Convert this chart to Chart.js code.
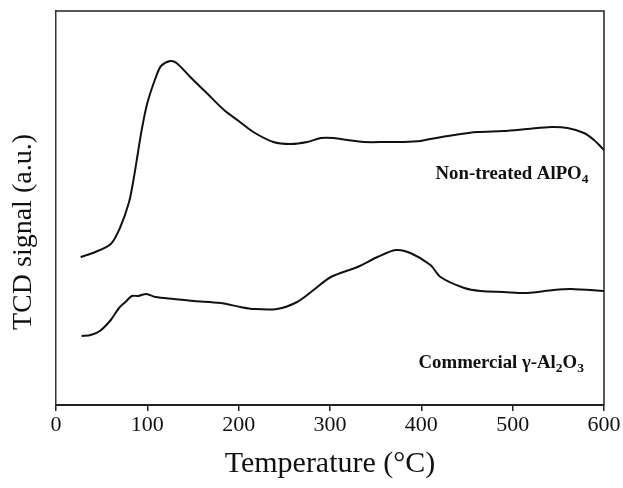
<!DOCTYPE html>
<html>
<head>
<meta charset="utf-8">
<script src="https://cdn.jsdelivr.net/npm/chart.js@4/dist/chart.umd.min.js"></script>
<style>
html,body{margin:0;padding:0;background:#fff;}
#wrap{width:623px;height:488px;position:relative;}
</style>
</head>
<body>
<div id="wrap"><canvas id="c" width="623" height="488"></canvas></div>
<script>
// Temperatures (°C) and TCD signal (a.u.)
const tempNonTreated = [27, 43, 60, 70, 80, 85, 90, 94, 100, 109, 115, 125, 132, 147, 165, 184, 200, 216, 238, 257, 275, 290, 304, 319, 337, 363, 381, 399, 410, 436, 461, 490, 516, 542, 560, 578, 589, 600];
const signalNonTreated = [148, 153, 161, 177, 203, 226, 254, 276, 302, 327, 339, 344, 342, 328, 312, 295, 284, 273, 263, 261, 263, 267, 267, 265, 263, 263, 263, 264, 266, 270, 273, 274, 276, 278, 277, 272, 265, 255];

const tempCommercial = [28, 38, 48, 60, 69, 76, 83, 90, 99, 109, 129, 151, 180, 202, 216, 242, 264, 282, 301, 330, 352, 372, 388, 410, 421, 447, 465, 490, 516, 545, 564, 600];
const signalCommercial = [69, 70, 74, 85, 97, 103, 109, 109, 111, 108, 106, 104, 102, 98, 96, 96, 103, 115, 128, 138, 148, 155, 152, 140, 128, 117, 114, 113, 112, 115, 116, 114];

const xTicks = [0, 100, 200, 300, 400, 500, 600];

const seriesLabels = [
  {name: 'Non-treated AlPO4', parts: [['Non-treated AlPO', 0], ['4', 1]], x: 583, y: 226},
  {name: 'Commercial γ-Al2O3', parts: [['Commercial γ-Al', 0], ['2', 1], ['O', 0], ['3', 1]], x: 578, y: 37}
];

const yTitle = 'TCD signal (a.u.)';
const xTitle = 'Temperature (°C)';
const SERIF = '"Liberation Serif", "Times New Roman", serif';

function pts(xs, ys) { return xs.map((x, i) => ({x: x, y: ys[i]})); }

const framePlugin = {
  id: 'frame',
  afterDatasetsDraw(chart) {
    const {ctx, chartArea: a} = chart;
    ctx.save();
    ctx.strokeStyle = '#222';
    ctx.lineWidth = 1.5;
    ctx.beginPath();
    ctx.moveTo(a.left, a.top);
    ctx.lineTo(a.right, a.top);
    ctx.lineTo(a.right, a.bottom);
    ctx.stroke();
    ctx.restore();
  }
};

const labelPlugin = {
  id: 'seriesLabels',
  afterDatasetsDraw(chart) {
    const {ctx, scales} = chart;
    ctx.save();
    ctx.fillStyle = '#111';
    ctx.textBaseline = 'alphabetic';
    ctx.textAlign = 'left';
    seriesLabels.forEach(l => {
      const main = 'bold 18.8px ' + SERIF;
      const sub = 'bold 13.5px ' + SERIF;
      let w = 0;
      l.parts.forEach(p => { ctx.font = p[1] ? sub : main; w += ctx.measureText(p[0]).width; });
      let x = scales.x.getPixelForValue(l.x) - w;
      const y = scales.y.getPixelForValue(l.y);
      l.parts.forEach(p => {
        ctx.font = p[1] ? sub : main;
        ctx.fillText(p[0], x, y + (p[1] ? 4 : 0));
        x += ctx.measureText(p[0]).width;
      });
    });
    // y-axis title
    ctx.save();
    ctx.translate(24, 232);
    ctx.rotate(-Math.PI / 2);
    ctx.textAlign = 'center';
    ctx.textBaseline = 'middle';
    ctx.font = '28px ' + SERIF;
    ctx.fillText(yTitle, 0, 0);
    ctx.restore();
    ctx.restore();
  }
};

new Chart(document.getElementById('c'), {
  type: 'line',
  data: {
    datasets: [
      {label: seriesLabels[0].name, data: pts(tempNonTreated, signalNonTreated), borderColor: '#111', borderWidth: 2, pointRadius: 0, tension: 0.3, fill: false},
      {label: seriesLabels[1].name, data: pts(tempCommercial, signalCommercial), borderColor: '#111', borderWidth: 2, pointRadius: 0, tension: 0.3, fill: false}
    ]
  },
  options: {
    responsive: false,
    animation: false,
    devicePixelRatio: 1,
    layout: {padding: {top: 11, right: 19, left: 0, bottom: 0}},
    plugins: {legend: {display: false}, tooltip: {enabled: false}},
    scales: {
      x: {
        type: 'linear', min: 0, max: 600,
        afterBuildTicks(s) { s.ticks = xTicks.map(v => ({value: v})); },
        afterFit(s) { s.height = 83; },
        grid: {display: true, drawOnChartArea: false, drawTicks: true, tickLength: 6, color: '#222', lineWidth: 1.5},
        border: {display: true, color: '#222', width: 2},
        ticks: {color: '#111', font: {family: SERIF, size: 22}, padding: 1, maxRotation: 0},
        title: {display: true, text: xTitle, color: '#111', font: {family: SERIF, size: 30}, padding: {top: 2, bottom: 6}}
      },
      y: {
        min: 0, max: 394,
        afterFit(s) { s.width = 56; },
        grid: {display: false},
        border: {display: true, color: '#333', width: 1.5},
        ticks: {display: false},
        title: {display: false, text: yTitle}
      }
    }
  },
  plugins: [framePlugin, labelPlugin]
});
</script>
</body>
</html>
